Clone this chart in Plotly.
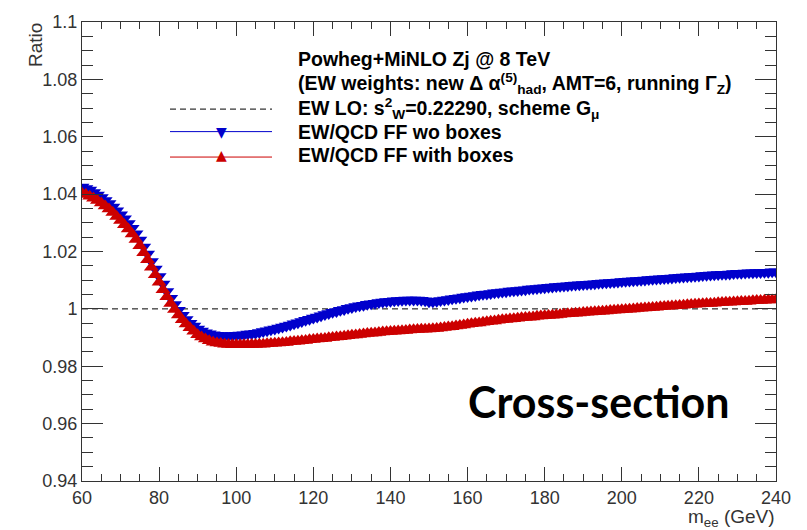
import plotly.graph_objects as go

# ---------------- data ----------------
mass = list(range(60, 241))

ratio_wo_boxes = [
    1.0425, 1.0420, 1.0414, 1.0406, 1.0397, 1.0388, 1.0378, 1.0367, 1.0355, 1.0342,
    1.0328, 1.0314, 1.0298, 1.0281, 1.0262, 1.0240, 1.0216, 1.0191, 1.0165, 1.0139,
    1.0113, 1.0087, 1.0061, 1.0037, 1.0015, 0.9995, 0.9978, 0.9963, 0.9950, 0.9940,
    0.9930, 0.9923, 0.9917, 0.9913, 0.9910, 0.9908, 0.9907, 0.9906, 0.9906, 0.9907,
    0.9908, 0.9909, 0.9910, 0.9912, 0.9913, 0.9915, 0.9918, 0.9921, 0.9924, 0.9927,
    0.9930, 0.9933, 0.9937, 0.9940, 0.9944, 0.9948, 0.9952, 0.9956, 0.9960, 0.9964,
    0.9968, 0.9972, 0.9976, 0.9980, 0.9984, 0.9988, 0.9991, 0.9995, 0.9998, 1.0002,
    1.0005, 1.0008, 1.0011, 1.0013, 1.0016, 1.0018, 1.0020, 1.0022, 1.0024, 1.0026,
    1.0027, 1.0028, 1.0029, 1.0030, 1.0031, 1.0031, 1.0031, 1.0031, 1.0030, 1.0028,
    1.0025, 1.0025, 1.0027, 1.0029, 1.0031, 1.0033, 1.0035, 1.0037, 1.0039, 1.0041,
    1.0043, 1.0045, 1.0047, 1.0049, 1.0051, 1.0052, 1.0054, 1.0056, 1.0057, 1.0059,
    1.0060, 1.0062, 1.0063, 1.0064, 1.0066, 1.0067, 1.0069, 1.0070, 1.0071, 1.0073,
    1.0074, 1.0075, 1.0076, 1.0078, 1.0079, 1.0080, 1.0081, 1.0082, 1.0083, 1.0084,
    1.0085, 1.0086, 1.0087, 1.0088, 1.0089, 1.0090, 1.0091, 1.0092, 1.0093, 1.0094,
    1.0095, 1.0096, 1.0097, 1.0098, 1.0099, 1.0100, 1.0101, 1.0102, 1.0103, 1.0104,
    1.0105, 1.0106, 1.0107, 1.0108, 1.0109, 1.0110, 1.0111, 1.0112, 1.0113, 1.0114,
    1.0115, 1.0116, 1.0117, 1.0118, 1.0119, 1.0120, 1.0121, 1.0121, 1.0122, 1.0123,
    1.0124, 1.0124, 1.0125, 1.0126, 1.0126, 1.0127, 1.0127, 1.0128, 1.0128, 1.0129,
    1.0129,
]

ratio_with_boxes = [
    1.0403, 1.0399, 1.0393, 1.0386, 1.0378, 1.0369, 1.0359, 1.0348, 1.0336, 1.0322,
    1.0308, 1.0293, 1.0278, 1.0261, 1.0242, 1.0220, 1.0196, 1.0171, 1.0145, 1.0119,
    1.0093, 1.0067, 1.0042, 1.0019, 0.9998, 0.9979, 0.9962, 0.9947, 0.9934, 0.9922,
    0.9910, 0.9902, 0.9895, 0.9889, 0.9884, 0.9881, 0.9879, 0.9877, 0.9876, 0.9875,
    0.9875, 0.9875, 0.9875, 0.9875, 0.9876, 0.9876, 0.9877, 0.9877, 0.9878, 0.9879,
    0.9880, 0.9881, 0.9882, 0.9883, 0.9885, 0.9886, 0.9887, 0.9889, 0.9890, 0.9892,
    0.9893, 0.9895, 0.9896, 0.9897, 0.9899, 0.9900, 0.9902, 0.9903, 0.9905, 0.9906,
    0.9908, 0.9909, 0.9911, 0.9912, 0.9914, 0.9915, 0.9916, 0.9918, 0.9919, 0.9920,
    0.9921, 0.9922, 0.9923, 0.9924, 0.9925, 0.9926, 0.9927, 0.9928, 0.9929, 0.9929,
    0.9930, 0.9931, 0.9932, 0.9933, 0.9935, 0.9937, 0.9938, 0.9940, 0.9942, 0.9944,
    0.9946, 0.9948, 0.9950, 0.9951, 0.9953, 0.9955, 0.9957, 0.9958, 0.9960, 0.9962,
    0.9963, 0.9965, 0.9966, 0.9967, 0.9969, 0.9970, 0.9971, 0.9972, 0.9974, 0.9975,
    0.9976, 0.9977, 0.9978, 0.9979, 0.9980, 0.9982, 0.9983, 0.9984, 0.9985, 0.9986,
    0.9987, 0.9988, 0.9989, 0.9990, 0.9991, 0.9992, 0.9993, 0.9994, 0.9995, 0.9996,
    0.9997, 0.9998, 0.9999, 1.0000, 1.0001, 1.0002, 1.0003, 1.0004, 1.0005, 1.0006,
    1.0007, 1.0008, 1.0009, 1.0010, 1.0011, 1.0012, 1.0013, 1.0014, 1.0015, 1.0016,
    1.0017, 1.0018, 1.0019, 1.0019, 1.0020, 1.0021, 1.0022, 1.0023, 1.0023, 1.0024,
    1.0025, 1.0026, 1.0026, 1.0027, 1.0028, 1.0029, 1.0029, 1.0030, 1.0031, 1.0031,
    1.0032,
]

ew_lo_mass = [60, 240]
ew_lo_ratio = [1.0, 1.0]

x_tick_vals = [60, 80, 100, 120, 140, 160, 180, 200, 220, 240]
x_tick_text = ["60", "80", "100", "120", "140", "160", "180", "200", "220", "240"]
y_tick_vals = [0.94, 0.96, 0.98, 1.0, 1.02, 1.04, 1.06, 1.08, 1.1]
y_tick_text = ["0.94", "0.96", "0.98", "1", "1.02", "1.04", "1.06", "1.08", "1.1"]

legend_header = [
    "Powheg+MiNLO Zj @ 8 TeV",
    "(EW weights: new \u0394 \u03b1<sup>(5)</sup><sub>had</sub>, AMT=6, running \u0393<sub>Z</sub>)",
]
legend_labels = [
    "EW LO: s<sup>2</sup><sub>W</sub>=0.22290, scheme G<sub>\u03bc</sub>",
    "EW/QCD FF wo boxes",
    "EW/QCD FF with boxes",
]

BLUE = "#0000cc"
RED = "#cc0000"
AXIS = "#333333"

# ---------------- layout geometry ----------------
W, H = 807, 530
L, R, T, B = 82, 776, 12, 481


def px(x):
    return (x - L) / (R - L)


def py(y):
    return (B - y) / (B - T)


fig = go.Figure()

fig.add_trace(go.Scatter(
    x=ew_lo_mass, y=ew_lo_ratio, mode="lines",
    line=dict(color="black", width=1, dash="6px,4px"),
    showlegend=False, hoverinfo="skip",
))
fig.add_trace(go.Scatter(
    x=mass, y=ratio_wo_boxes, mode="lines+markers",
    line=dict(color=BLUE, width=1),
    marker=dict(symbol="triangle-down", size=13, color=BLUE, line=dict(width=0)),
    showlegend=False,
))
fig.add_trace(go.Scatter(
    x=mass, y=ratio_with_boxes, mode="lines+markers",
    line=dict(color=RED, width=1),
    marker=dict(symbol="triangle-up", size=13, color=RED, line=dict(width=0)),
    showlegend=False,
))

tickfont = dict(family="Liberation Sans, Arial, sans-serif", size=18, color=AXIS)

fig.update_xaxes(
    range=[60, 240], tickvals=x_tick_vals, ticktext=x_tick_text,
    ticks="inside", ticklen=14, tickwidth=1, tickcolor=AXIS,
    minor=dict(dtick=5, tick0=60, ticks="inside", ticklen=7, tickwidth=1, tickcolor=AXIS),
    showline=True, linecolor=AXIS, linewidth=1, mirror="ticks",
    showgrid=False, zeroline=False, tickfont=tickfont,
)
fig.update_yaxes(
    range=[0.94, 1.1], tickvals=y_tick_vals, ticktext=y_tick_text,
    ticks="inside", ticklen=21, tickwidth=1, tickcolor=AXIS,
    minor=dict(dtick=0.005, tick0=0.94, ticks="inside", ticklen=11, tickwidth=1, tickcolor=AXIS),
    showline=True, linecolor=AXIS, linewidth=1, mirror="ticks",
    showgrid=False, zeroline=False, tickfont=tickfont,
)

annotations = []
shapes = []

legfont = dict(family="Liberation Sans, Arial, sans-serif", size=19.5, color="black")
text_x = px(296)
header_y = [50, 75]
for txt, yy in zip(legend_header, header_y):
    annotations.append(dict(
        x=text_x, y=py(yy), xref="paper", yref="paper", text="<b>" + txt + "</b>",
        showarrow=False, xanchor="left", yanchor="middle", font=legfont,
    ))
label_y = [100, 124, 148]
for txt, yy in zip(legend_labels, label_y):
    annotations.append(dict(
        x=text_x, y=py(yy), xref="paper", yref="paper", text="<b>" + txt + "</b>",
        showarrow=False, xanchor="left", yanchor="middle", font=legfont,
    ))

# legend samples
shapes.append(dict(type="line", xref="paper", yref="paper",
                   x0=px(170), x1=px(272), y0=py(101), y1=py(101),
                   line=dict(color="black", width=1, dash="6px,4px")))
shapes.append(dict(type="line", xref="paper", yref="paper",
                   x0=px(170), x1=px(272), y0=py(124), y1=py(124),
                   line=dict(color=BLUE, width=1)))
shapes.append(dict(type="line", xref="paper", yref="paper",
                   x0=px(170), x1=px(272), y0=py(150), y1=py(150),
                   line=dict(color=RED, width=1)))
annotations.append(dict(x=px(221), y=py(124), xref="paper", yref="paper", text="\u25bc",
                        showarrow=False, xanchor="center", yanchor="middle",
                        font=dict(family="DejaVu Sans", size=14, color=BLUE)))
annotations.append(dict(x=px(221), y=py(148), xref="paper", yref="paper", text="\u25b2",
                        showarrow=False, xanchor="center", yanchor="middle",
                        font=dict(family="DejaVu Sans", size=14, color=RED)))

# axis titles
annotations.append(dict(x=px(35), y=py(11), xref="paper", yref="paper", text="Ratio",
                        textangle=-90, showarrow=False, xanchor="center", yanchor="top",
                        font=dict(family="Liberation Sans, Arial, sans-serif", size=19, color=AXIS)))
annotations.append(dict(x=px(777), y=py(519), xref="paper", yref="paper",
                        text="m<sub>ee</sub> (GeV)",
                        showarrow=False, xanchor="right", yanchor="middle",
                        font=dict(family="Liberation Sans, Arial, sans-serif", size=19, color=AXIS)))

# big label
annotations.append(dict(x=px(599), y=py(400), xref="paper", yref="paper",
                        text="<b>Cross-section</b>",
                        showarrow=False, xanchor="center", yanchor="middle",
                        font=dict(family="Lato, Open Sans, sans-serif", size=43, color="black")))

fig.update_layout(
    width=W, height=H,
    margin=dict(l=L, r=W - R, t=T, b=H - B, pad=0),
    paper_bgcolor="white", plot_bgcolor="white",
    annotations=annotations, shapes=shapes,
    showlegend=False,
)

fig.write_html("out.html")
